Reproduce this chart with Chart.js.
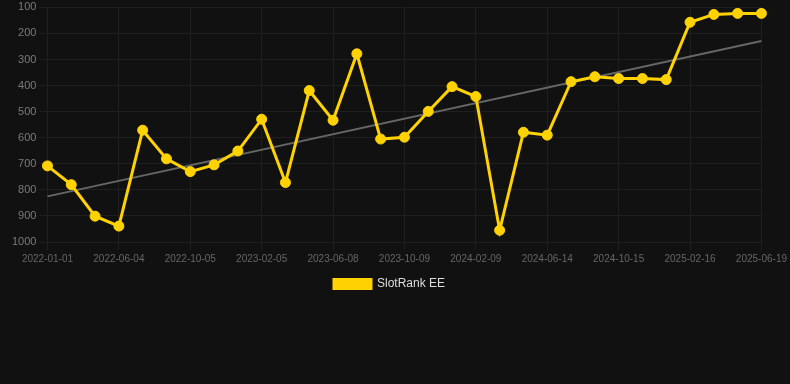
<!DOCTYPE html>
<html>
<head>
<meta charset="utf-8">
<script src="https://cdn.jsdelivr.net/npm/chart.js@4"></script>
<style>
  html, body { margin: 0; padding: 0; background: #111111; }
  #wrap { width: 790px; height: 300px; position: relative; }
</style>
</head>
<body>
<div id="wrap"><canvas id="myChart"></canvas></div>
<script>
const labels = [
  '2022-01-01', '2022-02-21', '2022-04-13', '2022-06-04', '2022-07-15', '2022-08-25',
  '2022-10-05', '2022-11-15', '2022-12-26', '2023-02-05', '2023-03-18', '2023-04-28',
  '2023-06-08', '2023-07-19', '2023-08-29', '2023-10-09', '2023-11-19', '2023-12-30',
  '2024-02-09', '2024-03-21', '2024-05-03', '2024-06-14', '2024-07-25', '2024-09-04',
  '2024-10-15', '2024-11-25', '2025-01-05', '2025-02-16', '2025-03-29', '2025-05-09',
  '2025-06-19'
];
const rank = [
  708, 780, 901, 939, 571, 681, 730, 704, 651, 529, 772,
  419, 533, 278, 605, 598, 499, 404, 442, 955, 579, 590,
  385, 366, 373, 373, 377, 157, 127, 123, 123
];
// trend line: only the two end points
const trend = [825].concat(new Array(29).fill(null), [229]);
const yTicks = [100, 1000, 100]; // min, max, step

const ctx = document.querySelector('#myChart').getContext('2d');

const data = {
  labels,
  datasets: [
    {
      label: 'SlotRank EE',
      data: rank,
      borderColor: '#ffd200',
      backgroundColor: '#ffd200',
      borderWidth: 3,
      pointRadius: 5,
      pointBorderWidth: 1,
      pointHoverRadius: 6,
      tension: 0,
    },
    {
      label: 'trend',
      data: trend,
      borderColor: '#666666',
      borderWidth: 2,
      pointRadius: 0,
      spanGaps: true,
    },
  ],
};

const config = {
  type: 'line',
  data: data,
  options: {
    responsive: true,
    maintainAspectRatio: false,
    animation: false,
    layout: { padding: { left: 9, right: 20, top: -3 } },
    plugins: {
      legend: {
        position: 'bottom',
        labels: {
          color: '#dddddd',
          font: { family: 'Liberation Sans, Arial', size: 12 },
          boxWidth: 37,
          boxHeight: 9,
          filter: (item) => item.text !== 'trend',
        },
      },
      tooltip: { enabled: false },
    },
    scales: {
      x: {
        grid: { color: '#1f1f1f' },
        border: { color: '#1f1f1f' },
        ticks: {
          color: '#666666',
          font: { family: 'Liberation Sans, Arial', size: 10 },
          maxRotation: 0,
          autoSkip: true,
          maxTicksLimit: 11,
        },
      },
      y: {
        reverse: true,
        min: yTicks[0],
        max: yTicks[1],
        grid: { color: '#1f1f1f' },
        border: { color: '#1f1f1f' },
        ticks: {
          stepSize: yTicks[2],
          color: '#7a7a7a',
          font: { family: 'Liberation Sans, Arial', size: 11, lineHeight: 0.8 },
          callback: (v) => String(v),
        },
      },
    },
  },
};

const myChart = new Chart(ctx, config);
</script>
</body>
</html>
